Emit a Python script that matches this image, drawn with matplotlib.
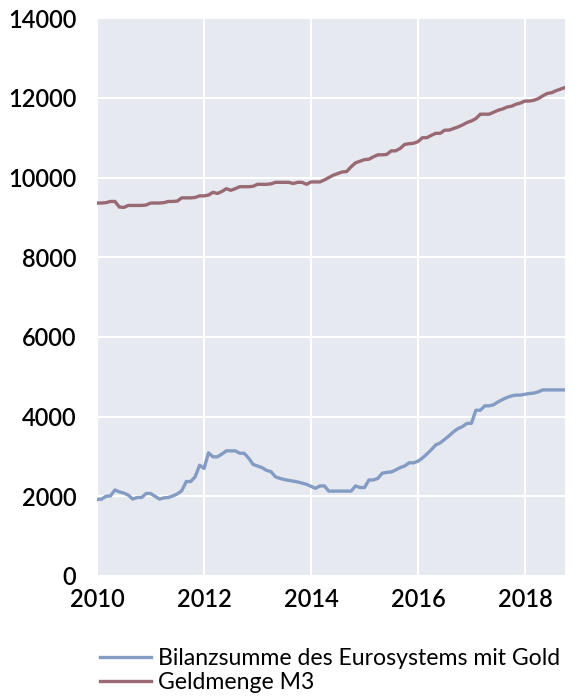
import matplotlib
matplotlib.use("Agg")
import matplotlib.pyplot as plt
import numpy as np

plt.rcParams['font.family'] = ['Lato', 'DejaVu Sans']

# monthly, Jan 2010 .. Oct 2018
start_year = 2010
bilanz = [
    1920, 1930, 2000, 2010, 2160, 2110, 2080, 2030, 1930, 1970, 1970, 2070,
    2070, 2000, 1930, 1960, 1970, 2010, 2060, 2140, 2370, 2370, 2490, 2780,
    2700, 3090, 2990, 2990, 3060, 3140, 3140, 3140, 3080, 3080, 2960, 2800,
    2760, 2720, 2650, 2620, 2490, 2450, 2420, 2400, 2380, 2360, 2330, 2300,
    2250, 2200, 2260, 2260, 2130, 2130, 2130, 2130, 2130, 2130, 2260, 2220,
    2220, 2410, 2410, 2450, 2580, 2600, 2610, 2660, 2720, 2760, 2840, 2840,
    2880, 2960, 3060, 3170, 3290, 3340, 3430, 3520, 3620, 3700, 3750, 3830,
    3830, 4160, 4160, 4270, 4270, 4300, 4370, 4430, 4480, 4520, 4540, 4540,
    4560, 4580, 4590, 4620, 4670, 4670, 4670, 4670, 4670, 4670,
]
m3 = [
    9360, 9360, 9370, 9400, 9400, 9260, 9250, 9300, 9300, 9300, 9300, 9310,
    9360, 9360, 9360, 9370, 9400, 9400, 9410, 9490, 9490, 9490, 9500, 9540,
    9540, 9560, 9630, 9600, 9650, 9720, 9680, 9720, 9770, 9770, 9770, 9780,
    9830, 9830, 9830, 9840, 9880, 9880, 9880, 9880, 9850, 9880, 9880, 9830,
    9890, 9890, 9890, 9940, 10000, 10060, 10100, 10140, 10150, 10270, 10370, 10410,
    10450, 10460, 10520, 10570, 10570, 10580, 10670, 10670, 10730, 10830, 10850, 10860,
    10900, 11000, 11000, 11060, 11110, 11110, 11190, 11190, 11230, 11270, 11320, 11380,
    11420, 11480, 11590, 11590, 11590, 11640, 11690, 11720, 11770, 11790, 11840, 11870,
    11920, 11920, 11940, 11980, 12050, 12110, 12130, 12180, 12220, 12260,
]
labels = ["Bilanzsumme des Eurosystems mit Gold", "Geldmenge M3"]

t = start_year + np.arange(len(m3)) / 12

fig = plt.figure(figsize=(5.78, 6.99), dpi=100)
ax = fig.add_axes([0.168, 0.176, 0.8095, 0.798])
ax.set_facecolor('#E6E9F0')
ax.plot(t, bilanz, color='#849CC4', lw=2.4, label=labels[0])
ax.plot(t, m3, color='#9A6A74', lw=2.4, label=labels[1])

ax.set_xlim(2010, t[-1])
ax.set_ylim(0, 14000)
ax.set_xticks([2010, 2012, 2014, 2016, 2018])
ax.set_yticks(np.arange(0, 14001, 2000))
ax.grid(True, color='white', lw=1.5)
ax.set_axisbelow(True)
for s in ax.spines.values():
    s.set_visible(False)
ax.tick_params(axis='y', length=0, labelsize=17, pad=15)
ax.tick_params(axis='x', length=0, labelsize=17, pad=9)
for lab in ax.get_xticklabels() + ax.get_yticklabels():
    lab.set_fontweight('semibold')

fig.legend(loc='lower left', bbox_to_anchor=(0.173, 0.008), frameon=False,
           fontsize=16.6, handlelength=2.2, handletextpad=0.3, labelspacing=0.15,
           borderpad=0, borderaxespad=0)

fig.savefig('out.png', dpi=100)
